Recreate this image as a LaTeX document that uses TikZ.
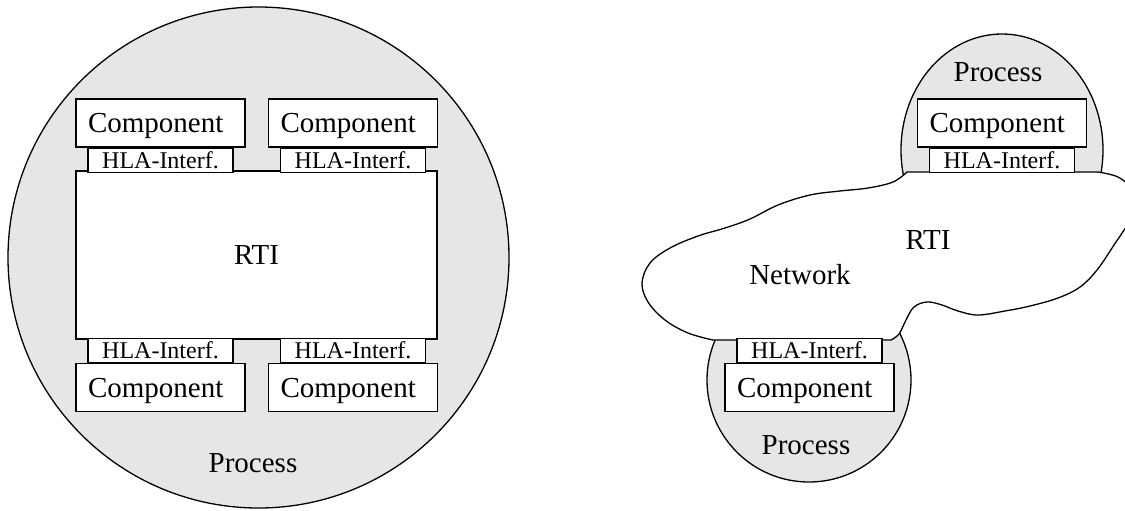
\documentclass[tikz,border=0pt]{standalone}
\usepackage{fontspec}
\setmainfont{Liberation Serif}
\usepackage{xcolor}
\usepackage{tikz}
\usetikzlibrary{positioning}
\definecolor{procgray}{HTML}{E6E6E6}

\begin{document}
\begin{tikzpicture}[x=0.5pt, y=-0.5pt, line width=0.65pt]
\tikzset{comp/.style={draw, fill=white, inner xsep=6pt, inner ysep=0pt, text width=72.5pt, align=left, text depth=0pt, minimum height=24pt, font=\fontsize{14.5}{17}\selectfont},
  hla/.style={draw, fill=white, inner sep=0pt, minimum width=72.5pt, minimum height=12pt, font=\fontsize{12}{14}\selectfont},
  lbl/.style={inner sep=0pt, font=\fontsize{14.5}{17}\selectfont},
  proc/.style={draw, fill=procgray},
  cloud/.style={draw, fill=white}}
\useasboundingbox (0,0) rectangle (1125,510);
% processes
\filldraw[proc] (258.5,257.5) circle[radius=250.5];
\filldraw[proc] (1002,150) ellipse[x radius=101, y radius=116];
\filldraw[proc] (809,380) circle[radius=102];
% network cloud
\filldraw[cloud] (907,172) -- (1098,172)
  -- plot[smooth, tension=0.6] coordinates {(1098,172) (1118,177) (1132,189) (1137,204) (1129,222) (1114,245) (1097,270) (1080,287) (1058,298) (1030,306) (1005,311) (978,315) (958,311) (942,305) (927,302) (914,307) (906,320) (899,334) (891,340)}
  -- (713,340)
  -- plot[smooth, tension=0.6] coordinates {(713,340) (688,333) (665,320) (648,302) (642,283) (650,263) (670,248) (698,236) (725,228) (750,219) (778,205) (810,195) (840,191) (868,188) (893,182) (907,172)}
  -- cycle;
% local federation
\node[draw, fill=white, minimum width=180.5pt, minimum height=84pt, lbl] (rti) at (256.5,255) {RTI};
\node[comp] (compA) at (160.5,123) {Component};
\node[comp] (compB) at (353,123) {Component};
\node[comp] (compC) at (160.5,387.5) {Component};
\node[comp] (compD) at (353,387.5) {Component};
\node[hla, below=0pt of compA] (hlaA) {HLA-Interf.};
\node[hla, below=0pt of compB] (hlaB) {HLA-Interf.};
\node[hla, above=0pt of compC] (hlaC) {HLA-Interf.};
\node[hla, above=0pt of compD] (hlaD) {HLA-Interf.};
\node[lbl] (procA) at (253,463) {Process};
% distributed federation
\node[comp] (compE) at (1002,123) {Component};
\node[hla, below=0pt of compE] (hlaE) {HLA-Interf.};
\node[lbl] (procE) at (998,72) {Process};
\node[comp] (compF) at (809.5,387.5) {Component};
\node[hla, above=0pt of compF] (hlaF) {HLA-Interf.};
\node[lbl] (procF) at (806,445) {Process};
\node[lbl] (netrti) at (928,240) {RTI};
\node[lbl] (net) at (800,275) {Network};
\end{tikzpicture}
\end{document}
